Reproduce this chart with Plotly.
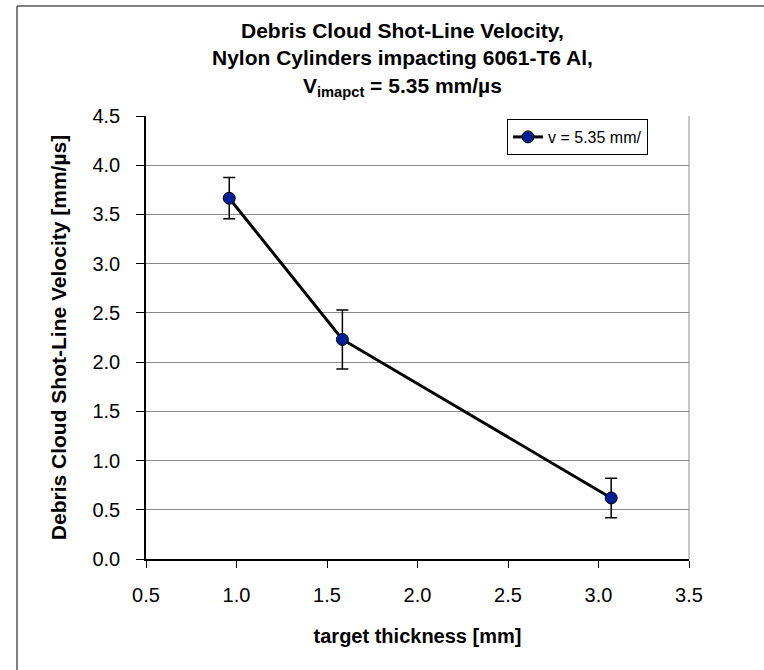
import plotly.graph_objects as go

# Measured shot-line velocity of the debris cloud vs. target thickness
thickness_mm = [0.96, 1.585, 3.07]
velocity_mm_us = [3.665, 2.23, 0.62]
velocity_err = [0.21, 0.30, 0.20]

series_name = "v = 5.35 mm/"
y_ticks = [0.0, 0.5, 1.0, 1.5, 2.0, 2.5, 3.0, 3.5, 4.0, 4.5]
x_ticks = [0.5, 1.0, 1.5, 2.0, 2.5, 3.0, 3.5]

FONT = "Liberation Sans, Arial, sans-serif"
W, H = 764, 670
L, R, T, B = 146, 75, 116, 111
PW, PH = W - L - R, H - T - B


def px_x(p):
    return (p - L) / PW


def px_y(p):
    return (H - B - p) / PH


fig = go.Figure()
fig.add_trace(go.Scatter(
    x=thickness_mm,
    y=velocity_mm_us,
    name=series_name,
    mode="lines+markers",
    line=dict(color="black", width=3),
    marker=dict(size=12, color="#001E96", line=dict(color="black", width=1)),
    error_y=dict(type="data", array=velocity_err, visible=True,
                 color="black", thickness=1.5, width=6),
))

# outer chart frame (only its top and left edges fall inside the page)
fig.add_shape(type="line", xref="paper", yref="paper",
              x0=px_x(17), x1=px_x(W), y0=px_y(6), y1=px_y(6),
              line=dict(color="#555555", width=1.5), layer="below")
fig.add_shape(type="line", xref="paper", yref="paper",
              x0=px_x(17), x1=px_x(17), y0=px_y(6), y1=px_y(H),
              line=dict(color="#555555", width=1.5), layer="below")
# right edge of the plot area
fig.add_shape(type="line", xref="paper", yref="paper",
              x0=1, x1=1, y0=0, y1=1, line=dict(color="#8c8c8c", width=1))

fig.add_annotation(
    xref="paper", yref="paper", x=px_x(402), y=px_y(17),
    xanchor="center", yanchor="top", showarrow=False,
    text=("<b>Debris Cloud Shot-Line Velocity,<br>"
          "Nylon Cylinders impacting 6061-T6 Al,<br>"
          "V<sub>imapct</sub> = 5.35 mm/µs</b>"),
    font=dict(family=FONT, size=21, color="black"),
)

fig.update_layout(
    width=W, height=H,
    margin=dict(l=L, r=R, t=T, b=B),
    paper_bgcolor="white", plot_bgcolor="white",
    font=dict(family=FONT, color="black"),
    showlegend=True,
    legend=dict(
        x=px_x(507), y=px_y(119), xanchor="left", yanchor="top",
        bgcolor="white", bordercolor="black", borderwidth=1,
        font=dict(family=FONT, size=16, color="black"),
        tracegroupgap=0,
    ),
    xaxis=dict(
        range=[0.5, 3.5], tickvals=x_ticks, tickformat=".1f",
        showgrid=False, zeroline=False,
        showline=True, linecolor="black", linewidth=1.5,
        ticks="outside", ticklen=7, tickcolor="black",
        ticklabelstandoff=10,
        tickfont=dict(family=FONT, size=20),
        title=dict(text="<b>target thickness [mm]</b>",
                   font=dict(family=FONT, size=20), standoff=24),
    ),
    yaxis=dict(
        range=[0, 4.5], tickvals=y_ticks, tickformat=".1f",
        showgrid=True, gridcolor="#8c8c8c", gridwidth=1, zeroline=False,
        showline=True, linecolor="black", linewidth=1.5,
        ticks="outside", ticklen=8, tickcolor="black",
        ticklabelstandoff=12,
        tickfont=dict(family=FONT, size=20),
        title=dict(text="<b>Debris Cloud Shot-Line Velocity [mm/µs]</b>",
                   font=dict(family=FONT, size=21), standoff=20),
    ),
)

fig.write_html("out.html")
